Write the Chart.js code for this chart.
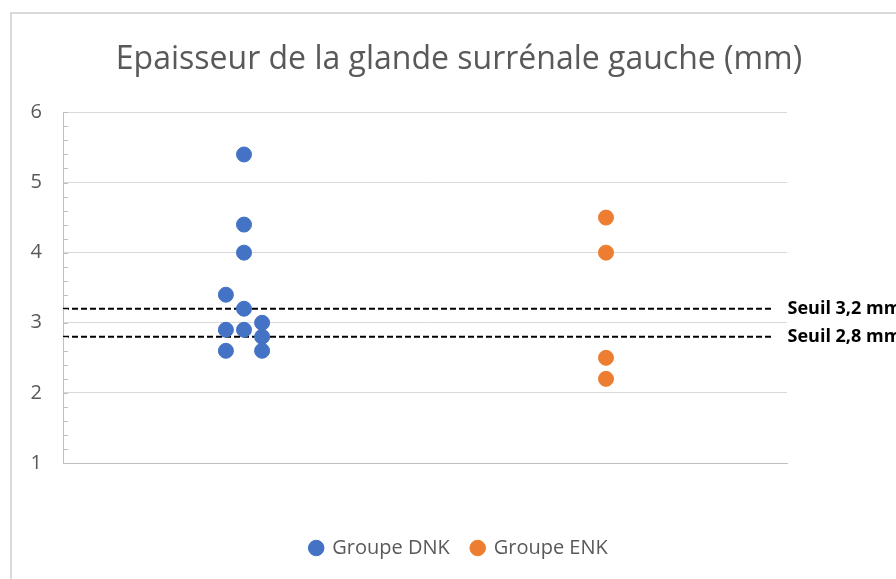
<!DOCTYPE html>
<html>
<head>
<meta charset="utf-8">
<script src="https://cdn.jsdelivr.net/npm/chart.js@4"></script>
<style>
  html, body { margin: 0; padding: 0; background: #fff; overflow: hidden; }
  #frame {
    position: absolute; left: 10px; top: 12px;
    width: 1000px; height: 1000px;
    border: 2px solid #d9d9d9;
  }
  #wrap { position: absolute; left: 0; top: 0; width: 894px; height: 565px; }
</style>
</head>
<body>
<div id="frame"><div id="wrap"><canvas id="chart"></canvas></div></div>
<script>
// groupe DNK (x = position de la colonne, légèrement décalée)
const dnkX = [1, 1, 1, 0.9, 1, 0.9, 1, 1.1, 1.1, 0.9, 1.1];
const dnkY = [5.4, 4.4, 4.0, 3.4, 3.2, 2.9, 2.9, 3.0, 2.8, 2.6, 2.6];
// groupe ENK
const enkX = [3, 3, 3, 3];
const enkY = [4.5, 4.0, 2.5, 2.2];
// seuils
const seuils = [3.2, 2.8];
const seuilLabels = ["Seuil 3,2 mm", "Seuil 2,8 mm"];
const seuilX = [0, 3.92];
const yTicks = [1, 2, 3, 4, 5, 6];

const grey = "#595959";
const font = "'Open Sans', 'Liberation Sans', sans-serif";

const toPoints = (xs, ys) => ys.map((y, i) => ({ x: xs[i], y }));

const datasets = [
  {
    label: "Groupe DNK",
    data: toPoints(dnkX, dnkY),
    backgroundColor: "#4472C4",
    borderColor: "#4472C4",
    pointRadius: 7.5,
    pointHoverRadius: 7.5,
  },
  {
    label: "Groupe ENK",
    data: toPoints(enkX, enkY),
    backgroundColor: "#ED7D31",
    borderColor: "#ED7D31",
    pointRadius: 7.5,
    pointHoverRadius: 7.5,
  },
];
seuils.forEach((s, i) => {
  datasets.push({
    label: seuilLabels[i],
    seuilLabel: seuilLabels[i],
    data: seuilX.map(x => ({ x, y: s })),
    showLine: true,
    borderColor: "#000",
    borderWidth: 2,
    borderDash: [6, 3],
    pointRadius: 0,
    pointHoverRadius: 0,
  });
});

// petites graduations à l'intérieur de l'axe Y
const minorTicks = {
  id: "minorTicks",
  afterDraw(chart) {
    const y = chart.scales.y;
    const ctx = chart.ctx;
    const left = chart.chartArea.left;
    ctx.save();
    ctx.strokeStyle = "#bfbfbf";
    ctx.lineWidth = 1;
    ctx.beginPath();
    for (let v = y.min; v <= y.max + 1e-9; v += 0.2) {
      const py = Math.round(y.getPixelForValue(v)) + 0.5;
      ctx.moveTo(left, py);
      ctx.lineTo(left + 5, py);
    }
    ctx.stroke();
    ctx.restore();
  }
};

// étiquettes des seuils au bout des lignes
const seuilText = {
  id: "seuilText",
  afterDatasetsDraw(chart) {
    const ctx = chart.ctx;
    ctx.save();
    ctx.font = "bold 18px " + font;
    ctx.fillStyle = "#000";
    ctx.textBaseline = "middle";
    chart.data.datasets.forEach((ds, i) => {
      if (!ds.seuilLabel) { return }
      const pts = chart.getDatasetMeta(i).data;
      const last = pts[pts.length - 1];
      ctx.fillText(ds.seuilLabel, last.x + 15, last.y);
    });
    ctx.restore();
  }
};

new Chart(document.getElementById("chart"), {
  type: "scatter",
  data: { datasets },
  plugins: [minorTicks, seuilText],
  options: {
    responsive: true,
    maintainAspectRatio: false,
    animation: false,
    layout: { padding: { bottom: 11 } },
    plugins: {
      title: {
        display: true,
        text: "Epaisseur de la glande surrénale gauche (mm)",
        color: grey,
        font: { family: font, size: 32, weight: "normal" },
        padding: { top: 27, bottom: 33 },
      },
      legend: {
        position: "bottom",
        labels: {
          filter: item => item.datasetIndex < 2,
          usePointStyle: true,
          pointStyle: "circle",
          boxWidth: 12,
          boxHeight: 11,
          padding: 22,
          color: grey,
          font: { family: font, size: 20 },
        },
      },
      tooltip: { enabled: false },
    },
    scales: {
      x: {
        type: "linear",
        min: 0,
        max: 4,
        ticks: { display: false },
        grid: { display: false },
        border: { display: true, color: "#bfbfbf", width: 1 },
        afterFit(s) { s.height = 53; },
      },
      y: {
        min: 1,
        max: 6,
        afterBuildTicks(s) { s.ticks = yTicks.map(v => ({ value: v })); },
        ticks: {
          color: grey,
          padding: 21,
          font: { family: font, size: 20 },
        },
        grid: { color: "#d9d9d9", drawTicks: false },
        border: { display: true, color: "#bfbfbf", width: 1 },
        afterFit(s) { s.width = 51; },
      },
      y2: {
        position: "right",
        ticks: { display: false },
        grid: { display: false },
        border: { display: false },
        afterFit(s) { s.width = 119; },
      },
    },
  },
});
</script>
</body>
</html>
